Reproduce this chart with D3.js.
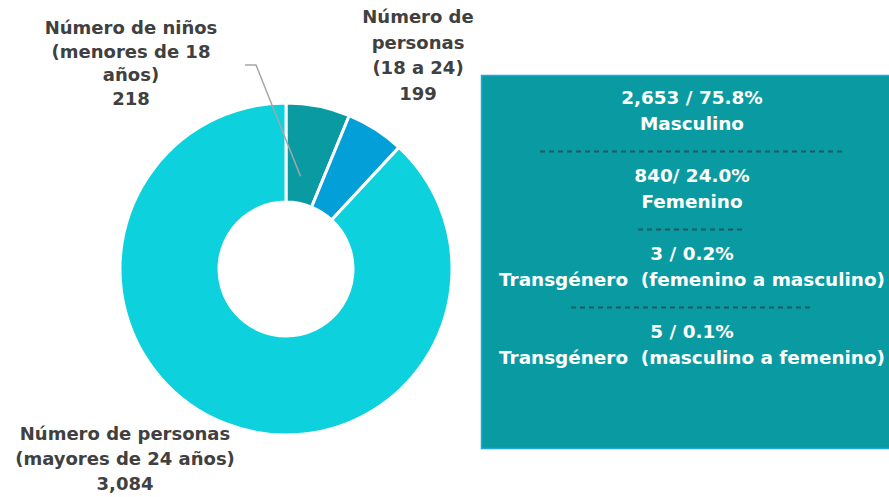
<!DOCTYPE html>
<html>
<head>
<meta charset="utf-8">
<script src="https://cdn.jsdelivr.net/npm/d3@7"></script>
<style>
  body { margin: 0; background: #fff; }
  text { font-family: "DejaVu Sans", sans-serif; font-weight: bold; white-space: pre; }
</style>
</head>
<body>
<div id="chart"></div>
<script>
// donut data
const ageGroups = ['Número de niños (menores de 18 años)', 'Número de personas (18 a 24)', 'Número de personas (mayores de 24 años)'];
const ageCounts = [218, 199, 3084];
const ageColors = ['#0a9ba2', '#039fd8', '#0dd1dc'];

// gender box data
const genderLabels = ['Masculino', 'Femenino', 'Transgénero  (femenino a masculino)', 'Transgénero  (masculino a femenino)'];
const genderCounts = ['2,653', '840', '3', '5'];
const genderPct = ['75.8%', '24.0%', '0.2%', '0.1%'];
const genderSep = [' / ', '/ ', ' / ', ' / '];

const width = 889, height = 497;

const svg = d3.select('#chart')
  .append('svg')
  .attr('width', width)
  .attr('height', height);

const cx = 286, cy = 269, outerR = 166, innerR = 67;

const pie = d3.pie().sort(null).value(d => d);
const arc = d3.arc().innerRadius(innerR).outerRadius(outerR);

const g = svg.append('g').attr('transform', `translate(${cx},${cy})`);

g.selectAll('path')
  .data(pie(ageCounts))
  .enter()
  .append('path')
  .attr('d', arc)
  .attr('fill', (d, i) => ageColors[i])
  .attr('stroke', '#fff')
  .attr('stroke-width', 3);

// leader line for the smallest slice
const slices = pie(ageCounts);
const tip = d3.arc().innerRadius(outerR * 0.6).outerRadius(outerR * 0.6).centroid(slices[0]);
svg.append('polyline')
  .attr('points', [[245, 65], [256, 65], [cx + tip[0] * 0.75, cy + tip[1] * 0.95]].map(p => p.join(',')).join(' '))
  .attr('fill', 'none')
  .attr('stroke', '#a6a6a6')
  .attr('stroke-width', 1.5);

// slice labels
const labelLines = [
  ['Número de niños', '(menores de 18', 'años)', d3.format(',')(ageCounts[0])],
  ['Número de', 'personas', '(18 a 24)', d3.format(',')(ageCounts[1])],
  ['Número de personas', '(mayores de 24 años)', d3.format(',')(ageCounts[2])]
];
const labelPos = [[131, 34, 23.5], [418, 23, 25.5], [125, 440, 25]];

labelLines.forEach((lines, i) => {
  const [x, y0, lh] = labelPos[i];
  svg.append('text')
    .attr('x', x)
    .attr('y', y0)
    .attr('text-anchor', 'middle')
    .attr('fill', '#404040')
    .attr('font-size', 18)
    .selectAll('tspan')
    .data(lines)
    .enter()
    .append('tspan')
    .attr('x', x)
    .attr('y', (d, j) => y0 + j * lh)
    .text(d => d);
});

// gender box
const box = svg.append('g');
box.append('rect')
  .attr('x', 481.5)
  .attr('y', 75.5)
  .attr('width', 420)
  .attr('height', 373)
  .attr('fill', '#0a9ba2')
  .attr('stroke', '#1ea6e0')
  .attr('stroke-width', 1.5);

const boxX = 692;
const rowY = d3.scaleLinear().domain([0, 1]).range([104, 182]);
const dashes = [[540, 843], [638, 744], [571, 812]];
const dashY = [151.5, 229.5, 307.5];

genderLabels.forEach((lab, i) => {
  const y = rowY(i);
  const t = box.append('text')
    .attr('text-anchor', 'middle')
    .attr('fill', '#fff')
    .attr('font-size', 18.4);
  t.append('tspan').attr('x', boxX).attr('y', y).text(genderCounts[i] + genderSep[i] + genderPct[i]);
  t.append('tspan').attr('x', boxX).attr('y', y + 26).text(lab);
  if (i < dashes.length) {
    box.append('line')
      .attr('x1', dashes[i][0]).attr('x2', dashes[i][1])
      .attr('y1', dashY[i]).attr('y2', dashY[i])
      .attr('stroke', '#1d5a5e')
      .attr('stroke-width', 2)
      .attr('stroke-dasharray', '5,4');
  }
});
</script>
</body>
</html>
